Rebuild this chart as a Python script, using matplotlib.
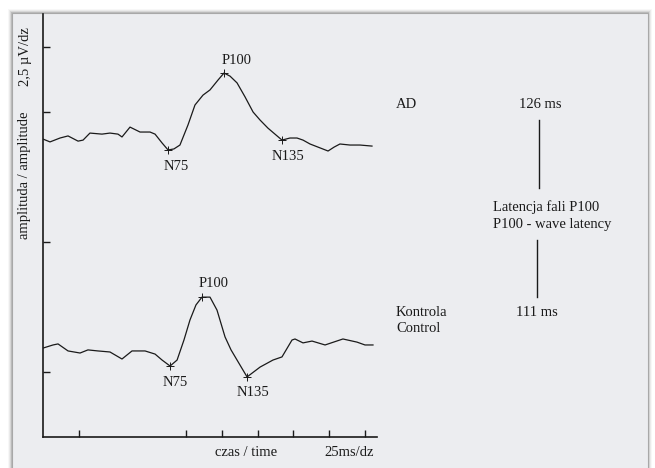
import numpy as np
import matplotlib
matplotlib.use("Agg")
from matplotlib import pyplot as plt
from matplotlib.patches import Rectangle
from matplotlib.lines import Line2D

# VEP traces, time in ms, amplitude in uV (offset per trace)
ad_time = [0, 4.9, 11.9, 17.5, 24.5, 28, 32.8, 41.2, 46.8, 52.4, 55.2, 60.8, 67.8, 74.8,
           78.3, 83.2, 87.4, 91.5, 95.7, 101.3, 106.2, 111.8, 116.7, 122.3, 126.5, 130.7,
           135.6, 141.2, 146.8, 151.7, 157.2, 162.1, 167.0, 172.6, 177.5, 181.7, 186.6,
           193.6, 199.2, 203.4, 207.5, 214.5, 221.5, 229.9]
ad_amp = [11.46, 11.35, 11.5, 11.58, 11.38, 11.42, 11.69, 11.65, 11.69, 11.65, 11.54, 11.92,
          11.73, 11.73, 11.65, 11.31, 11.04, 11.08, 11.23, 12.0, 12.77, 13.15, 13.35, 13.73,
          14.0, 13.88, 13.62, 13.08, 12.5, 12.19, 11.88, 11.65, 11.42, 11.5, 11.5, 11.42,
          11.27, 11.12, 11.0, 11.15, 11.27, 11.23, 11.23, 11.19]

ctrl_time = [0, 7.0, 10.5, 17.5, 25.9, 31.4, 38.4, 46.8, 55.2, 62.2, 71.3, 78.3, 83.2, 88.8,
             93.7, 98.5, 102.7, 106.9, 111.1, 116.7, 121.6, 127.2, 131.4, 135.6, 142.6,
             151.7, 160.7, 167.0, 174.0, 176.1, 181.7, 188.0, 197.1, 209.6, 219.4, 225.0, 230.6]
ctrl_amp = [3.42, 3.54, 3.58, 3.31, 3.23, 3.35, 3.31, 3.27, 3.0, 3.31, 3.31, 3.19, 2.96, 2.73,
            2.96, 3.73, 4.5, 5.08, 5.38, 5.38, 4.88, 3.85, 3.35, 2.96, 2.31, 2.69, 2.96, 3.08,
            3.73, 3.77, 3.62, 3.69, 3.54, 3.77, 3.65, 3.54, 3.54]

peak_names = ["N75", "P100", "N135"]
ad_peaks = [(87.4, 11.04), (126.5, 14.0), (167.0, 11.42)]
ctrl_peaks = [(88.8, 2.73), (111.1, 5.38), (142.6, 2.31)]
ad_label_pos = [(92.9, 10.42), (135.6, 14.5), (171.2, 10.77)]
ctrl_label_pos = [(92.2, 2.08), (119.5, 5.92), (146.8, 1.73)]

x_ticks = [25, 100, 125, 150, 175, 200, 225]
y_ticks = [2.5, 7.5, 12.5, 15]

W, H = 655, 468
plt.rcParams['font.family'] = ['Liberation Serif', 'DejaVu Serif']
fig = plt.figure(figsize=(W / 100, H / 100), dpi=100)
fig.patch.set_facecolor('white')


def fx(px):
    return px / W


def fy(py):
    return 1 - py / H


# panel background with soft shadow
for i, a in enumerate([0.03, 0.05, 0.08, 0.12]):
    d = 4 - i
    fig.patches.append(Rectangle((fx(12 - d), fy(H + 5)), fx(636 + 2 * d), (H - 13 + d + 5) / H,
                                 transform=fig.transFigure, facecolor='black', alpha=a,
                                 edgecolor='none', zorder=0))
fig.patches.append(Rectangle((fx(12), fy(H + 5)), fx(636), (H - 13 + 5) / H,
                             transform=fig.transFigure, facecolor='#ecedf0',
                             edgecolor='#a8a8a8', linewidth=0.8, zorder=1))

ax = fig.add_axes([fx(43), fy(437), fx(377 - 43), (437 - 14) / H])
ax.set_facecolor('none')
ax.set_zorder(2)
ax.plot(ad_time, ad_amp, color='#1a1a1a', lw=0.9)
ax.plot(ctrl_time, ctrl_amp, color='#1a1a1a', lw=0.9)
for (px, py) in ad_peaks + ctrl_peaks:
    ax.plot(px, py, marker='+', ms=6, mew=0.7, color='#1a1a1a')
for name, (lx, ly) in zip(peak_names, ad_label_pos):
    ax.text(lx, ly, name, ha='center', va='center', fontsize=10.5, color='#1a1a1a')
for name, (lx, ly) in zip(peak_names, ctrl_label_pos):
    ax.text(lx, ly, name, ha='center', va='center', fontsize=10.5, color='#1a1a1a')

ax.set_xlim(0, 233.4)
ax.set_ylim(0, 16.27)
ax.set_xticks(x_ticks)
ax.set_yticks(y_ticks)
ax.set_xticklabels([])
ax.set_yticklabels([])
ax.tick_params(direction='in', length=5, width=1.0, color='#1a1a1a')
for s in ['top', 'right']:
    ax.spines[s].set_visible(False)
for s in ['left', 'bottom']:
    ax.spines[s].set_linewidth(1.2)
    ax.spines[s].set_color('#1a1a1a')

tc = '#1a1a1a'
fs = 10.5
fig.text(fx(25), fy(57), "2,5 \u00b5V/dz", rotation=90, ha='center', va='center', fontsize=fs, color=tc)
fig.text(fx(25), fy(175), "amplituda / amplitude", rotation=90, ha='center', va='center', fontsize=fs, color=tc)
fig.text(fx(246), fy(452), "czas / time", ha='center', va='center', fontsize=fs, color=tc)
fig.text(fx(349), fy(452), "25ms/dz", ha='center', va='center', fontsize=fs, color=tc)

fig.text(fx(396), fy(105), "AD", ha='left', va='center', fontsize=fs, color=tc)
fig.text(fx(540), fy(105), "126 ms", ha='center', va='center', fontsize=fs, color=tc)
fig.text(fx(493), fy(207), "Latencja fali P100", ha='left', va='center', fontsize=fs, color=tc)
fig.text(fx(493), fy(224), "P100 - wave latency", ha='left', va='center', fontsize=fs, color=tc)
fig.text(fx(396), fy(312), "Kontrola", ha='left', va='center', fontsize=fs, color=tc)
fig.text(fx(396), fy(328), "Control", ha='left', va='center', fontsize=fs, color=tc)
fig.text(fx(537), fy(312), "111 ms", ha='center', va='center', fontsize=fs, color=tc)
fig.lines.append(Line2D([fx(539), fx(539)], [fy(120), fy(188)], transform=fig.transFigure,
                        color=tc, lw=1.0))
fig.lines.append(Line2D([fx(537), fx(537)], [fy(240), fy(297)], transform=fig.transFigure,
                        color=tc, lw=1.0))

fig.savefig("out.png", dpi=100)
